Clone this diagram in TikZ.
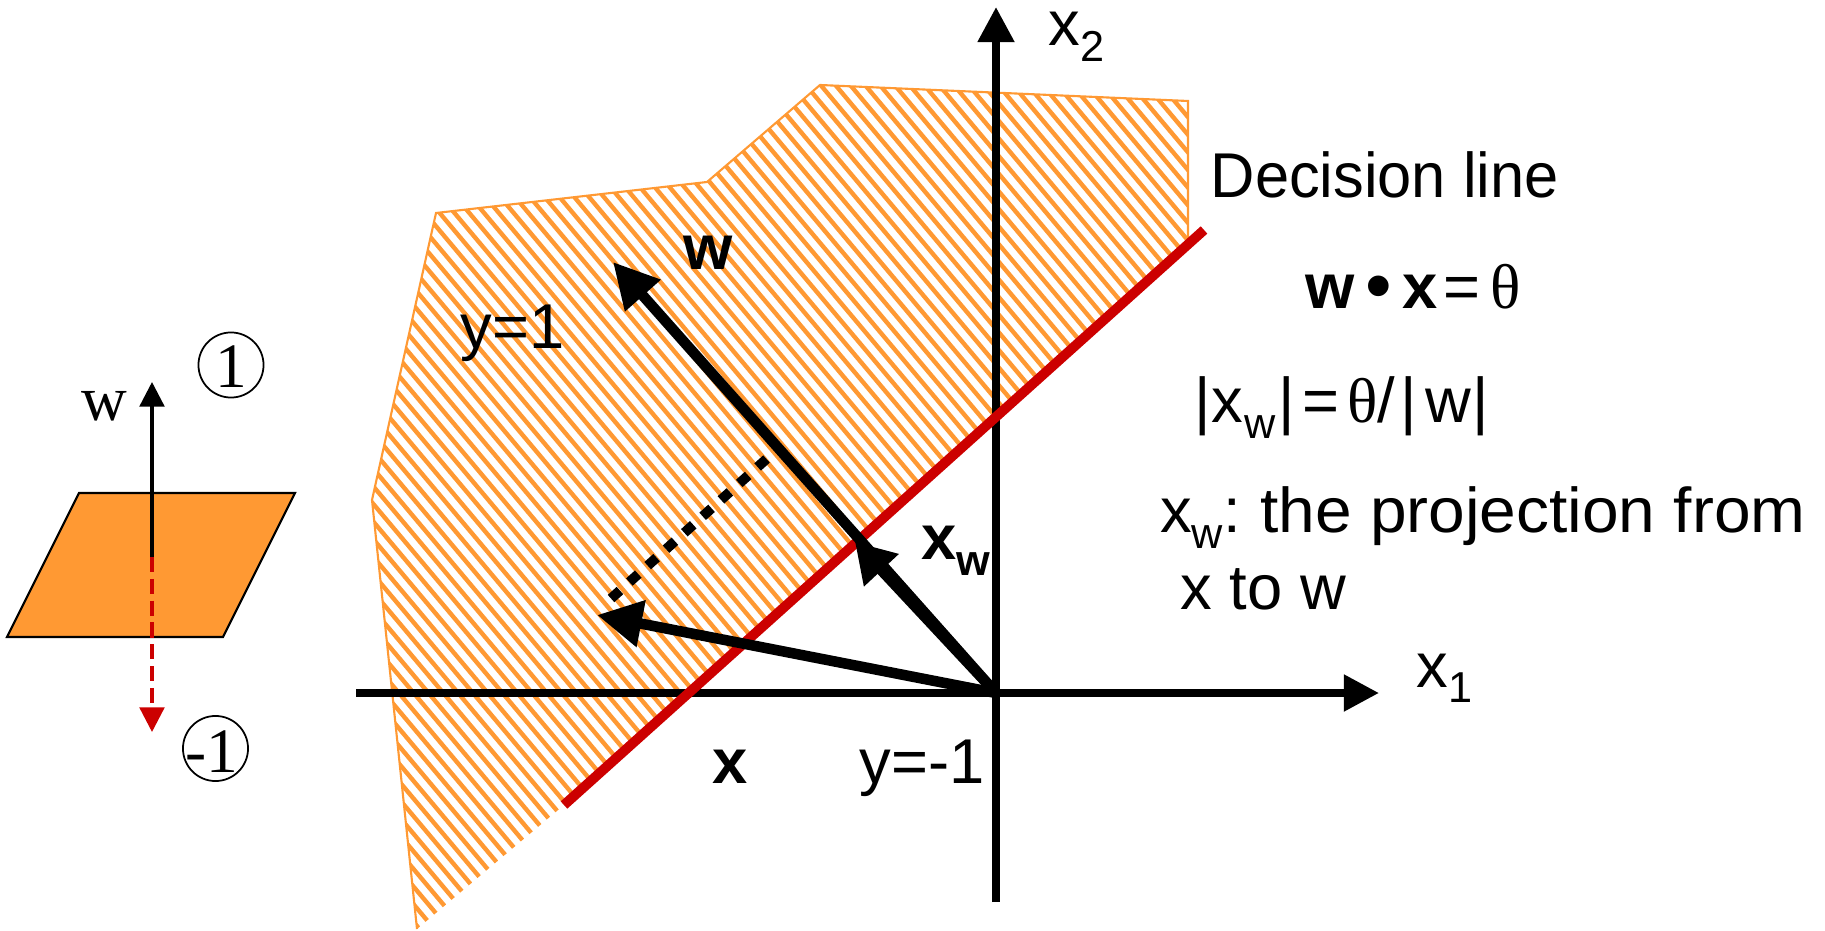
\documentclass[tikz,border=0pt]{standalone}
\usepackage{fontspec}
\usepackage{graphicx}
\setmainfont{Liberation Sans}
\newfontfamily\serifface{Liberation Serif}
\usetikzlibrary{arrows.meta}
\definecolor{hatchorange}{RGB}{255,153,51}
\definecolor{decred}{RGB}{204,0,0}
\newcommand\mainsize{\fontsize{18}{21}\selectfont}
\newcommand\subsize{\fontsize{12.3}{13}\selectfont}
\newcommand\lowsub[1]{\raisebox{-4.5pt}{\subsize #1}}
\begin{document}
\begin{tikzpicture}[x=0.01cm, y=-0.01cm,
  lab/.style={font=\mainsize, inner sep=0pt, anchor=base west},
  labc/.style={font=\mainsize, inner sep=0pt, anchor=base},
  axisline/.style={line width=2.2pt, -{Triangle[length=10pt,width=10pt]}},
  vec/.style={line width=3pt, -{Triangle[length=12.8pt,width=12.8pt]}},
  hatchline/.style={hatchorange, line width=1.25pt},
  ]
\useasboundingbox (0,0) rectangle (1825,931);

% region vertices
\coordinate (pA) at (820,85);
\coordinate (pB) at (1188,101);
\coordinate (pH) at (1188,245);
\coordinate (pG) at (564,805);
\coordinate (pF) at (417,929);
\coordinate (pE) at (372,500);
\coordinate (pD) at (436,213);
\coordinate (pC) at (707,182);

% hatched half-plane
\begin{scope}
  \clip (pA) -- (pB) -- (pH) -- (pG) -- (pF) -- (pE) -- (pD) -- (pC) -- cycle;
  \foreach \k in {0,...,106} {\draw[hatchline] ({-420+14.8*\k},0) -- ++(782,931);}
\end{scope}
\draw[hatchorange, line width=0.6pt] (pH) -- (pB) -- (pA) -- (pC) -- (pD) -- (pE) -- (pF);

% axes
\coordinate (O) at (996,693);
\coordinate (xl) at (356,693);
\coordinate (xr) at (1379,693);
\coordinate (yb) at (996,902);
\coordinate (yt) at (996,7);
\draw[axisline] (xl) -- (xr);
\draw[axisline] (yb) -- (yt);

% decision line
\coordinate (rl) at (564,805);
\coordinate (ru) at (1204,230);
\draw[decred, line width=2.8pt] (rl) -- (ru);

% vectors
\coordinate (wtip) at (613,262);
\coordinate (P) at (855,542);
\coordinate (xtip) at (597,615);
\draw[vec] (O) -- (wtip);
\draw[line width=3pt, -{Triangle[length=11pt,width=12.8pt]}] (O) -- (P);
\draw[vec] (O) -- (xtip);

% projection (dotted)
\coordinate (d1) at (766.5,459);
\coordinate (d2) at (610.5,599);
\draw[line width=2.8pt, dash pattern=on 3.4pt off 3.6pt] (d1) -- (d2);

% labels in main figure
\node[labc, font=\mainsize\bfseries] (wlab) at (708,270) {w};
\node[lab] (y1) at (460,349) {y=1};
\node[lab] (ym1) at (859,783) {y=-1};
\node[labc, font=\mainsize\bfseries] (xlab) at (730,783) {x};
\node[lab, font=\mainsize\bfseries] (xwlab) at (921,559) {x\raisebox{-4.8pt}{\subsize w}};
\node[lab] (x1lab) at (1416,687) {x\lowsub{1}};
\node[lab] (x2lab) at (1048,46) {x\lowsub{2}};
\node[lab] (dl) at (1210,198) {\scalebox{0.97}[1]{Decision line}};
\node[lab] (eq1) at (1305,309) {\textbf{w}\kern3pt\raisebox{-0.6pt}{\scalebox{1.2}{•}}\kern3pt\textbf{x}\kern1.5pt=\kern3pt{\serifface θ}};
\node[lab] (eq2) at (1194,423) {|x\kern0.6pt\lowsub{w}\kern0.6pt|\kern2.2pt=\kern2.2pt{\serifface θ}/\kern1.6pt|\kern2.4pt{}w\kern0.3pt|};
\node[lab] (eq3) at (1159.5,533) {x\lowsub{w}:\ \kern0.6pt\scalebox{1.04}[1]{the projection from}};
\node[lab] (eq4) at (1180,610) {x to w};

% left icon
\coordinate (q1) at (79,493);
\coordinate (q2) at (295,493);
\coordinate (q3) at (223,637);
\coordinate (q4) at (7,637);
\filldraw[fill=hatchorange, draw=black, line width=0.6pt] (q1) -- (q2) -- (q3) -- (q4) -- cycle;
\coordinate (ic) at (152,557);
\coordinate (iu) at (152,382);
\coordinate (id) at (152,732);
\draw[line width=0.95pt, -{Triangle[length=7pt,width=7pt]}] (ic) -- (iu);
\draw[decred, line width=0.95pt, dash pattern=on 4.3pt off 1.9pt, -{Triangle[length=7pt,width=7pt]}] (ic) -- (id);
\node[labc, font=\serifface\mainsize] (wserif) at (104,421) {w};
\node[draw, circle, line width=0.5pt, minimum size=18.5pt, inner sep=0pt] (c1) at (231,365) {};
\node[labc, font=\serifface\mainsize] (c1t) at (231,388) {1};
\node[draw, circle, line width=0.5pt, minimum size=18.5pt, inner sep=0pt] (c2) at (215.5,748.5) {};
\node[labc, font=\serifface\mainsize] (c2t) at (212,772) {-1};
\end{tikzpicture}
\end{document}
